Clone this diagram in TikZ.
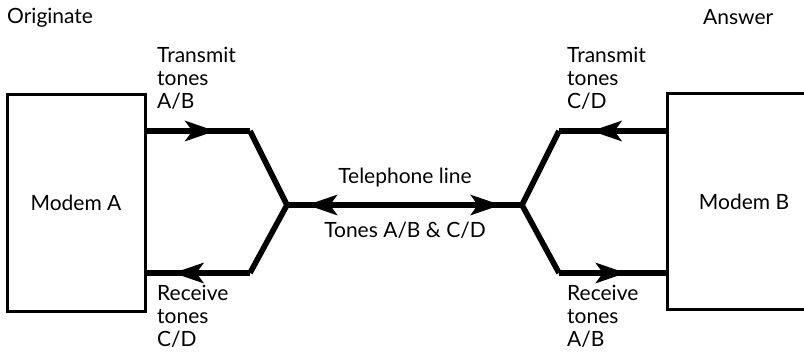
\documentclass[tikz,border=0pt]{standalone}
\usepackage{fontspec}
\setmainfont{Lato}
\usetikzlibrary{arrows.meta,decorations.markings}
\tikzset{
  modem/.style={draw, line width=3pt, inner sep=0pt, font=\fontsize{21}{24}\selectfont},
  wire/.style={line width=5.6pt, line join=miter},
  lbl/.style={inner sep=0pt, align=left, font=\fontsize{21}{22.8}\selectfont},
  fwd/.style={postaction={decorate, decoration={markings, mark=at position #1 with {\arrow{Stealth[length=30pt,width=20pt,inset=7pt]}}}}},
  bwd/.style={postaction={decorate, decoration={markings, mark=at position #1 with {\arrowreversed{Stealth[length=30pt,width=20pt,inset=7pt]}}}}},
}
\begin{document}
\begin{tikzpicture}[x=1pt,y=-1pt]
\useasboundingbox (0,0) rectangle (804,361);
\clip (0,0) rectangle (804,361);
% boxes
\node[modem, minimum width=138pt, minimum height=216pt] (A) at (76,203) {Modem A};
\node[modem, minimum width=154pt, minimum height=215pt] (B) at (744,201.5) {Modem B};
% coordinates
\coordinate (a1) at (145,131);
\coordinate (a2) at (250,131);
\coordinate (a3) at (145,273);
\coordinate (a4) at (250,273);
\coordinate (jA) at (287,205);
\coordinate (jB) at (522,205);
\coordinate (b1) at (667,131);
\coordinate (b2) at (559,131);
\coordinate (b3) at (667,273);
\coordinate (b4) at (559,273);
% left branches
\draw[wire, fwd=0.67] (a1) -- (a2);
\draw[wire] (a2) -- (jA) -- (a4);
\draw[wire, bwd=0.27] (a3) -- (a4);
% telephone line
\draw[wire, bwd=0.085, fwd=0.91] (jA) -- (jB);
% right branches
\draw[wire] (b2) -- (jB) -- (b4);
\draw[wire, bwd=0.30] (b2) -- (b1);
\draw[wire, fwd=0.62] (b4) -- (b3);
% labels
\node[lbl, anchor=west] (orig) at (7,18) {Originate};
\node[lbl, anchor=west] (ans) at (703,17) {Answer};
\node[lbl, anchor=north west] (tA) at (157,47) {Transmit\\tones\\A/B};
\node[lbl, anchor=north west] (rA) at (157,285) {Receive\\tones\\C/D};
\node[lbl, anchor=north west] (tB) at (567,47) {Transmit\\tones\\C/D};
\node[lbl, anchor=north west] (rB) at (567,285) {Receive\\tones\\A/B};
\node[lbl] (tel) at (405,178) {Telephone line};
\node[lbl] (tones) at (405,230) {Tones A/B \& C/D};
\end{tikzpicture}
\end{document}
